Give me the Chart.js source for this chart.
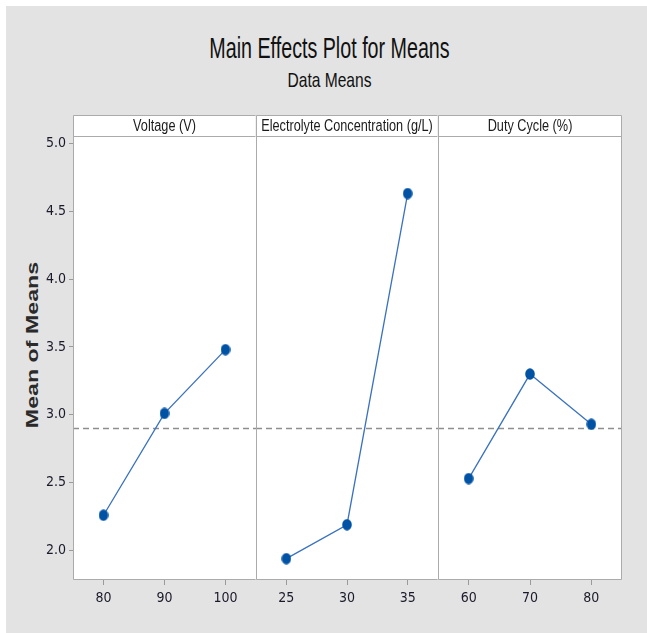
<!DOCTYPE html>
<html>
<head>
<meta charset="utf-8">
<script src="https://cdn.jsdelivr.net/npm/chart.js@4.4.1/dist/chart.umd.min.js"></script>
<style>
  body { margin: 0; background: #fff; }
  #sheet { position: absolute; left: 6px; top: 6px; width: 641px; height: 627px; background: #e3e3e3; }
  .ttl { position: absolute; left: 0; width: 659px; text-align: center; color: #111;
         font-family: 'Liberation Sans', Arial, sans-serif; }
  #mainTitle { top: 36px; font-size: 24px; line-height: 24px; transform: scale(0.82, 1.2); }
  #subTitle { top: 71px; font-size: 19px; line-height: 18px; transform: scale(0.82, 1.1); }
  #yTitle { position: absolute; left: -67px; top: 335px; width: 200px; text-align: center;
            font: bold 16px 'Liberation Sans', Arial, sans-serif; line-height: 20px; color: #2a2a2a;
            transform: rotate(-90deg) scaleX(1.45); }
  canvas { position: absolute; top: 100px; }
</style>
</head>
<body>
<div id="sheet"></div>
<div class="ttl" id="mainTitle">Main Effects Plot for Means</div>
<div class="ttl" id="subTitle">Data Means</div>
<div id="yTitle">Mean of Means</div>
<canvas id="cht1" width="250" height="533" style="left:6px"></canvas>
<canvas id="cht2" width="182" height="533" style="left:256px"></canvas>
<canvas id="cht3" width="184" height="533" style="left:438px"></canvas>
<script>
'use strict';
// data
const voltageLevels = ['80', '90', '100'];
const voltageMeans = [2.26, 3.01, 3.48];
const electrolyteLevels = ['25', '30', '35'];
const electrolyteMeans = [1.94, 2.19, 4.63];
const dutyLevels = ['60', '70', '80'];
const dutyMeans = [2.53, 3.30, 2.93];
const factorNames = ['Voltage (V)', 'Electrolyte Concentration (g/L)', 'Duty Cycle (%)'];
const grandMean = 2.905;

const TICKFONT = "'DejaVu Sans Condensed', 'Liberation Sans', sans-serif";
const FRAME = '#ababab';

// slightly tall oval marker like the source plot
var marker = document.createElement('canvas');
marker.width = 10;
marker.height = 12;
(function () {
    var c = marker.getContext('2d');
    c.fillStyle = '#0052a5';
    c.beginPath();
    c.ellipse(5, 6, 4.8, 5.8, 0, 0, Math.PI * 2);
    c.fill();
})();

const panelPlugin = {
    id: 'panelPlugin',
    beforeDraw(chart) {
        var a = chart.chartArea, ctx = chart.ctx;
        ctx.save();
        ctx.fillStyle = '#fff';
        ctx.fillRect(a.left, a.top, a.right - a.left, a.bottom - a.top);
        ctx.restore();
    },
    beforeDatasetsDraw(chart) {
        // dashed grand mean reference
        var a = chart.chartArea, ctx = chart.ctx;
        var y = Math.round(chart.scales.y.getPixelForValue(grandMean)) + 0.5;
        ctx.save();
        ctx.strokeStyle = '#8e8e8e';
        ctx.lineWidth = 1.5;
        ctx.setLineDash([6, 4]);
        ctx.beginPath();
        ctx.moveTo(a.left, y);
        ctx.lineTo(a.right, y);
        ctx.stroke();
        ctx.restore();
    },
    afterDraw(chart) {
        var a = chart.chartArea, ctx = chart.ctx;
        var opts = chart.options.plugins.panelPlugin;
        var l = Math.round(a.left) + 0.5, r = Math.round(a.right) - 0.5;
        var t = Math.round(a.top) + 0.5, b = Math.round(a.bottom) + 0.5;
        ctx.save();
        // header strip
        ctx.fillStyle = '#fff';
        ctx.fillRect(l, t - 21, r - l, 21);
        ctx.strokeStyle = FRAME;
        ctx.lineWidth = 1;
        ctx.beginPath();
        ctx.moveTo(l, b);
        ctx.lineTo(l, t - 21);
        ctx.lineTo(r, t - 21);
        ctx.moveTo(l, t);
        ctx.lineTo(r, t);
        ctx.moveTo(l, b);
        ctx.lineTo(r, b);
        if (opts.last) {
            ctx.moveTo(r, t - 21);
            ctx.lineTo(r, b);
        }
        ctx.stroke();
        ctx.fillStyle = '#1a1a1a';
        ctx.font = "15.5px 'Liberation Sans', Arial, sans-serif";
        ctx.textAlign = 'center';
        ctx.textBaseline = 'middle';
        ctx.translate((a.left + a.right) / 2, a.top - 10);
        ctx.scale(0.82, 1.1);
        ctx.fillText(opts.label, 0, 0);
        ctx.restore();
    }
};

function makePanel(id, labels, values, name, showY, last) {
    return new Chart(document.getElementById(id), {
        type: 'line',
        data: {
            labels: labels,
            datasets: [{
                data: values,
                borderColor: '#3a72bf',
                borderWidth: 1.3,
                pointStyle: marker,
                pointRadius: 5,
                tension: 0,
                clip: false
            }]
        },
        options: {
            responsive: false,
            animation: false,
            events: [],
            layout: { autoPadding: false, padding: { top: 36, left: 0, right: 0, bottom: 0 } },
            plugins: {
                legend: { display: false },
                tooltip: { enabled: false },
                panelPlugin: { label: name, last: last }
            },
            scales: {
                x: {
                    type: 'category',
                    offset: true,
                    grid: { offset: false, drawOnChartArea: false, tickLength: 6, color: '#9a9a9a' },
                    border: { display: false },
                    ticks: { padding: 5, color: '#1a1a2a', font: { family: TICKFONT, size: 14 }, maxRotation: 0 },
                    afterFit(scale) { scale.height = 54; }
                },
                y: {
                    display: showY,
                    min: 1.79,
                    max: 5.054,
                    grid: { drawOnChartArea: false, tickLength: 4, color: '#9a9a9a' },
                    border: { display: false },
                    ticks: {
                        stepSize: 0.5,
                        includeBounds: false,
                        padding: 3,
                        color: '#1a1a2a',
                        font: { family: TICKFONT, size: 14 },
                        callback: (v) => v.toFixed(1)
                    },
                    afterFit(scale) { scale.width = showY ? 67 : 0; }
                }
            }
        },
        plugins: [panelPlugin]
    });
}

makePanel('cht1', voltageLevels, voltageMeans, factorNames[0], true, false);
makePanel('cht2', electrolyteLevels, electrolyteMeans, factorNames[1], false, false);
makePanel('cht3', dutyLevels, dutyMeans, factorNames[2], false, true);
</script>
</body>
</html>
